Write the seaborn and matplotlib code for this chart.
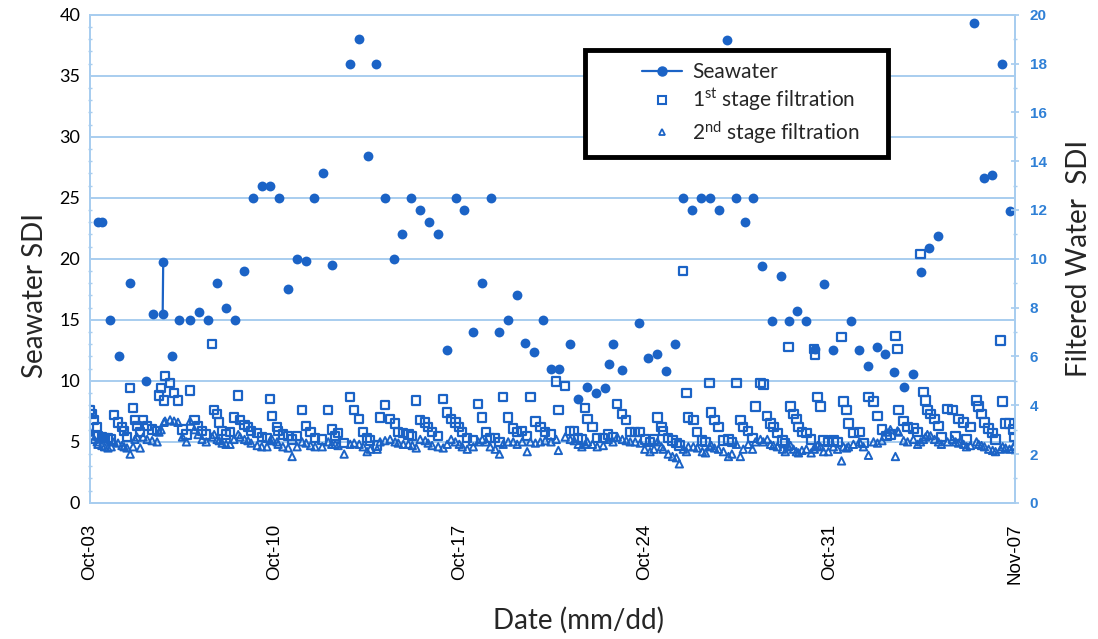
import numpy as np
import pandas as pd
import matplotlib
matplotlib.use("Agg")
import matplotlib.pyplot as plt
from matplotlib.lines import Line2D
from matplotlib.patches import Rectangle
import seaborn as sns

sns.set_theme(style="white")
plt.rcParams["font.family"] = ["Lato", "DejaVu Sans"]
plt.rcParams["mathtext.fontset"] = "custom"
plt.rcParams["mathtext.rm"] = "Lato"
plt.rcParams["mathtext.it"] = "Lato"

# days since Oct-03
sea_day = [0.30, 0.45, 0.76, 1.10, 1.52, 2.12, 2.39, 2.75, 2.77, 3.11,
           3.37, 3.79, 4.13, 4.47, 4.81, 5.15, 5.49, 5.83, 6.17, 6.52,
           6.82, 7.16, 7.50, 7.84, 8.18, 8.48, 8.83, 9.17, 9.85, 10.19,
           10.53, 10.83, 11.17, 11.52, 11.82, 12.16, 12.50, 12.84, 13.18, 13.52,
           13.86, 14.17, 14.51, 14.85, 15.19, 15.49, 15.83, 16.17, 16.48, 16.82,
           17.16, 17.46, 17.77, 18.18, 18.48, 18.83, 19.17, 19.51, 19.66, 19.81,
           20.15, 20.80, 21.14, 21.48, 21.82, 22.16, 22.46, 22.80, 23.14, 23.48,
           23.83, 24.13, 24.47, 24.81, 25.11, 25.45, 25.80, 26.14, 26.48, 26.78,
           27.12, 27.46, 27.80, 28.11, 28.79, 29.13, 29.47, 29.81, 30.11, 30.45,
           30.80, 31.14, 31.44, 31.78, 32.12, 33.48, 33.83, 34.13, 34.51, 34.81]
sea_sdi = [23.0, 23.0, 15.0, 12.0, 18.0, 10.0, 15.5, 15.5, 19.7, 12.0,
           15.0, 15.0, 15.6, 15.0, 18.0, 16.0, 15.0, 19.0, 25.0, 26.0,
           26.0, 25.0, 17.5, 20.0, 19.8, 25.0, 27.0, 19.5, 36.0, 38.0,
           28.4, 36.0, 25.0, 20.0, 22.0, 25.0, 24.0, 23.0, 22.0, 12.5,
           25.0, 24.0, 14.0, 18.0, 25.0, 14.0, 15.0, 17.0, 13.1, 12.4,
           15.0, 11.0, 11.0, 13.0, 8.5, 9.5, 9.0, 9.4, 11.4, 13.0,
           10.9, 14.7, 11.9, 12.2, 10.8, 13.0, 25.0, 24.0, 25.0, 25.0,
           24.0, 37.9, 25.0, 23.0, 25.0, 19.4, 14.9, 18.6, 14.9, 15.7,
           14.9, 12.6, 17.9, 12.5, 14.9, 12.5, 11.2, 12.8, 12.2, 10.7,
           9.5, 10.6, 18.9, 20.9, 21.9, 39.3, 26.6, 26.9, 36.0, 23.9]

filt_day = [0.00, 0.08, 0.15, 0.27, 0.30, 0.45, 0.55, 0.68, 0.80, 0.91,
            1.06, 1.21, 1.29, 1.40, 1.52, 1.63, 1.70, 1.78, 1.90, 2.01,
            2.16, 2.35, 2.54, 2.61, 2.69, 2.80, 2.84, 3.03, 3.18, 3.33,
            3.50, 3.65, 3.79, 3.95, 4.09, 4.24, 4.40, 4.62, 4.70, 4.81,
            4.89, 5.00, 5.15, 5.30, 5.45, 5.61, 5.68, 5.85, 5.98, 6.10,
            6.33, 6.50, 6.70, 6.82, 6.89, 7.08, 7.12, 7.30, 7.50, 7.65,
            7.84, 8.03, 8.18, 8.35, 8.52, 8.79, 9.02, 9.15, 9.28, 9.39,
            9.62, 9.85, 10.00, 10.19, 10.34, 10.49, 10.61, 10.87, 10.98, 11.17,
            11.36, 11.55, 11.67, 11.86, 12.05, 12.20, 12.35, 12.50, 12.69, 12.80,
            12.95, 13.18, 13.37, 13.52, 13.67, 13.83, 13.98, 14.09, 14.28, 14.51,
            14.70, 14.85, 15.00, 15.15, 15.34, 15.50, 15.64, 15.83, 16.02, 16.17,
            16.36, 16.55, 16.67, 16.86, 17.05, 17.23, 17.45, 17.65, 17.73, 17.99,
            18.18, 18.33, 18.48, 18.62, 18.75, 18.83, 19.02, 19.20, 19.43, 19.62,
            19.80, 19.96, 20.15, 20.30, 20.45, 20.64, 20.83, 21.00, 21.20, 21.35,
            21.48, 21.63, 21.70, 21.89, 22.05, 22.20, 22.31, 22.46, 22.58, 22.65,
            22.84, 22.99, 23.18, 23.30, 23.45, 23.52, 23.64, 23.79, 23.98, 24.17,
            24.30, 24.47, 24.62, 24.73, 24.92, 25.08, 25.19, 25.38, 25.49, 25.64,
            25.76, 25.87, 26.02, 26.21, 26.32, 26.44, 26.52, 26.63, 26.74, 26.82,
            26.95, 27.12, 27.30, 27.42, 27.44, 27.54, 27.65, 27.77, 27.95, 28.14,
            28.30, 28.45, 28.52, 28.64, 28.71, 28.90, 29.13, 29.28, 29.47, 29.66,
            29.81, 29.98, 30.15, 30.30, 30.49, 30.57, 30.61, 30.80, 30.95, 31.17,
            31.33, 31.44, 31.55, 31.63, 31.70, 31.82, 31.97, 32.12, 32.23, 32.46,
            32.65, 32.77, 32.88, 33.07, 33.18, 33.33, 33.56, 33.64, 33.75, 33.86,
            34.02, 34.17, 34.28, 34.47, 34.55, 34.66, 34.81, 34.96, 35.00]
stage1_sdi = [3.8, 3.65, 3.4, 3.1, 2.75, 2.7, 2.65, 2.67, 2.6, 3.6,
              3.3, 3.1, 2.95, 2.7, 4.7, 3.9, 3.4, 3.15, 2.9, 3.4,
              3.15, 3.0, 2.95, 4.4, 4.7, 4.2, 5.2, 4.9, 4.5, 4.2,
              3.0, 2.8, 4.6, 3.4, 3.15, 2.95, 2.8, 6.5, 3.8, 3.65,
              3.3, 2.95, 2.8, 2.9, 3.5, 4.4, 3.4, 3.2, 3.1, 2.95,
              2.85, 2.7, 2.67, 4.25, 3.55, 3.1, 2.95, 2.8, 2.75, 2.6,
              2.75, 3.8, 3.15, 2.9, 2.67, 2.6, 3.8, 3.0, 2.75, 2.85,
              2.45, 4.35, 3.8, 3.45, 2.9, 2.67, 2.55, 2.35, 3.5, 4.0,
              3.45, 3.25, 2.9, 2.85, 2.8, 2.75, 4.2, 3.4, 3.3, 3.1,
              2.9, 2.75, 4.25, 3.7, 3.45, 3.3, 3.1, 2.9, 2.67, 2.55,
              4.05, 3.5, 2.9, 2.67, 2.67, 2.5, 4.35, 3.5, 3.05, 2.9,
              2.95, 2.75, 4.35, 3.33, 3.1, 2.9, 2.8, 4.97, 3.8, 4.8,
              2.95, 2.95, 2.67, 2.6, 3.9, 3.45, 3.1, 2.67, 2.67, 2.8,
              2.7, 4.05, 3.65, 3.4, 2.9, 2.9, 2.9, 2.6, 2.5, 2.6,
              3.5, 3.1, 2.95, 2.67, 2.55, 2.45, 2.35, 9.5, 4.5, 3.5,
              3.4, 2.9, 2.55, 2.5, 4.9, 3.7, 3.4, 3.1, 2.55, 2.6,
              2.5, 4.9, 3.4, 3.1, 2.95, 2.67, 3.95, 4.9, 4.85, 3.55,
              3.25, 3.1, 2.85, 2.55, 2.45, 6.4, 3.95, 3.65, 3.45, 3.1,
              2.9, 2.85, 2.6, 6.3, 6.05, 4.35, 3.95, 2.55, 2.5, 2.55,
              2.5, 6.8, 4.15, 3.8, 3.25, 2.85, 2.9, 2.45, 4.35, 4.15,
              3.55, 3.0, 2.75, 2.8, 6.85, 6.3, 3.8, 3.35, 3.1, 3.05,
              2.9, 10.2, 4.55, 4.2, 3.8, 3.65, 3.45, 3.15, 2.7, 3.85,
              3.8, 2.75, 3.45, 3.3, 2.6, 3.1, 4.2, 3.95, 3.65, 3.3,
              3.05, 2.85, 2.6, 6.65, 4.15, 3.25, 3.25, 3.0, 2.7]
stage2_sdi = [2.9, 2.75, 2.6, 2.5, 2.4, 2.35, 2.3, 2.25, 2.3, 2.5,
              2.45, 2.35, 2.3, 2.25, 2.0, 2.3, 2.6, 2.7, 2.25, 2.7,
              2.6, 2.55, 2.5, 2.9, 3.0, 3.3, 3.35, 3.4, 3.35, 3.3,
              2.7, 2.5, 3.35, 3.0, 2.8, 2.6, 2.5, 2.7, 2.8, 2.6,
              2.55, 2.45, 2.4, 2.4, 2.6, 2.8, 2.7, 2.6, 2.55, 2.45,
              2.35, 2.3, 2.3, 2.55, 2.6, 2.5, 2.4, 2.3, 2.25, 1.9,
              2.3, 2.5, 2.45, 2.35, 2.3, 2.3, 2.5, 2.4, 2.4, 2.35,
              2.0, 2.4, 2.45, 2.4, 2.3, 2.1, 2.2, 2.2, 2.5, 2.55,
              2.6, 2.5, 2.45, 2.4, 2.4, 2.35, 2.25, 2.6, 2.55, 2.45,
              2.35, 2.3, 2.25, 2.4, 2.6, 2.5, 2.4, 2.3, 2.2, 2.3,
              2.5, 2.6, 2.5, 2.3, 2.2, 2.0, 2.4, 2.5, 2.5, 2.4,
              2.5, 2.1, 2.5, 2.45, 2.5, 2.55, 2.5, 2.6, 2.15, 2.7,
              2.6, 2.55, 2.4, 2.3, 2.4, 2.5, 2.4, 2.3, 2.35, 2.6,
              2.5, 2.7, 2.6, 2.55, 2.5, 2.5, 2.45, 2.2, 2.1, 2.2,
              2.5, 2.3, 2.2, 2.0, 1.9, 1.85, 1.6, 2.2, 2.1, 2.3,
              2.3, 2.25, 2.1, 2.05, 2.3, 2.35, 2.25, 2.2, 2.1, 1.9,
              2.0, 2.4, 1.9, 2.2, 2.4, 2.2, 2.5, 2.6, 2.5, 2.6,
              2.4, 2.35, 2.3, 2.2, 2.1, 2.3, 2.35, 2.2, 2.1, 2.05,
              2.15, 2.2, 2.05, 2.2, 2.3, 2.35, 2.3, 2.1, 2.1, 2.3,
              2.2, 1.72, 2.3, 2.25, 2.3, 2.4, 2.5, 2.3, 1.95, 2.5,
              2.45, 2.55, 2.9, 3.0, 1.9, 2.95, 2.9, 2.55, 2.5, 2.6,
              2.4, 2.5, 2.6, 2.7, 2.8, 2.75, 2.6, 2.5, 2.4, 2.5,
              2.6, 2.5, 2.45, 2.4, 2.3, 2.35, 2.5, 2.4, 2.35, 2.3,
              2.2, 2.15, 2.1, 2.2, 2.3, 2.25, 2.2, 2.3, 2.35]

tick_days = [0, 7, 14, 21, 28, 35]
tick_labels = ["Oct-03", "Oct-10", "Oct-17", "Oct-24", "Oct-31", "Nov-07"]

sea = pd.DataFrame({"day": sea_day, "sdi": sea_sdi})
filt = pd.DataFrame({"day": filt_day, "stage1": stage1_sdi, "stage2": stage2_sdi})

blue = "#1b63c6"
pale = "#a8cdef"
tick_blue = "#2f80d6"

fig = plt.figure(figsize=(10.98, 6.39), dpi=100)
ax = fig.add_axes([0.082, 0.213, 0.842, 0.764])
ax2 = ax.twinx()

# seawater on the left axis
sns.scatterplot(data=sea, x="day", y="sdi", ax=ax, color=blue, s=50,
                linewidth=0, zorder=3)
ax.plot(sea_day[7:9], sea_sdi[7:9], color=blue, lw=1.6, zorder=3)

# filtered water on the right axis
sns.scatterplot(data=filt, x="day", y="stage1", ax=ax2, marker="s", s=36,
                color="none", edgecolor=blue, linewidth=1.6)
sns.scatterplot(data=filt, x="day", y="stage2", ax=ax2, marker="^", s=28,
                color="none", edgecolor=blue, linewidth=1.4)

ax.set_xlim(0, 35)
ax.set_ylim(0, 40)
ax2.set_ylim(0, 20)

ax.set_xticks(tick_days, tick_labels, rotation=90)
ax.set_xticks(range(36), minor=True)
ax.set_yticks(range(0, 41, 5))
ax.set_yticks(range(0, 41), minor=True)
ax2.set_yticks(range(0, 21, 2))
ax2.set_yticks(range(0, 21), minor=True)

ax.yaxis.grid(True, color=pale, lw=1.4)
ax.set_axisbelow(True)

for a in (ax, ax2):
    for sp in a.spines.values():
        sp.set_color(pale)
        sp.set_linewidth(1.3)

ax.tick_params(axis="x", which="major", direction="inout", length=6, color=pale,
               pad=12, labelsize=13.5, labelcolor="black")
ax.tick_params(axis="x", which="minor", direction="inout", length=3, color=pale)
ax.tick_params(axis="y", which="major", length=0, pad=7, labelsize=13,
               labelcolor="black")
ax.tick_params(axis="y", which="minor", direction="inout", length=3.5, color=pale)
ax2.tick_params(axis="y", which="major", direction="inout", length=6, color=pale,
                pad=8, labelsize=11, labelcolor=tick_blue)
ax2.tick_params(axis="y", which="minor", direction="inout", length=3, color=pale)

for lab in ax.get_xticklabels():
    lab.set_family(["Liberation Sans", "DejaVu Sans"])
for lab in ax2.get_yticklabels():
    lab.set_family(["Liberation Sans", "DejaVu Sans"])
    lab.set_fontweight("bold")

ax.set_xlabel("Date (mm/dd)", fontsize=20)
ax.xaxis.set_label_coords(0.528, -0.212)
ax.set_ylabel("Seawater SDI", fontsize=20, va="center")
ax.yaxis.set_label_coords(-0.059, 0.425)
ax2.set_ylabel("Filtered Water  SDI", fontsize=20, va="center", rotation=90)
ax2.yaxis.set_label_coords(1.07, 0.50)

# legend box with a heavy black frame
ax2.add_patch(Rectangle((0.535, 0.708), 0.328, 0.22, transform=ax2.transAxes,
                        facecolor="white", edgecolor="black", lw=3.5, zorder=10))
handles = [
    Line2D([0], [0], color=blue, lw=1.6, marker="o", ms=6.5),
    Line2D([0], [0], color=blue, ls="none", marker="s", ms=5.5, mfc="none", mew=1.5),
    Line2D([0], [0], color=blue, ls="none", marker="^", ms=5, mfc="none", mew=1.3),
]
labels = ["Seawater", r"1$^{\mathrm{st}}$ stage filtration",
          r"2$^{\mathrm{nd}}$ stage filtration"]
leg = ax2.legend(handles, labels, loc="upper left", bbox_to_anchor=(0.588, 0.92),
                 frameon=False, fontsize=15, handlelength=1.9, handletextpad=0.5,
                 labelspacing=0.25, borderaxespad=0)
leg.set_zorder(11)

fig.savefig("out.png", dpi=100)
